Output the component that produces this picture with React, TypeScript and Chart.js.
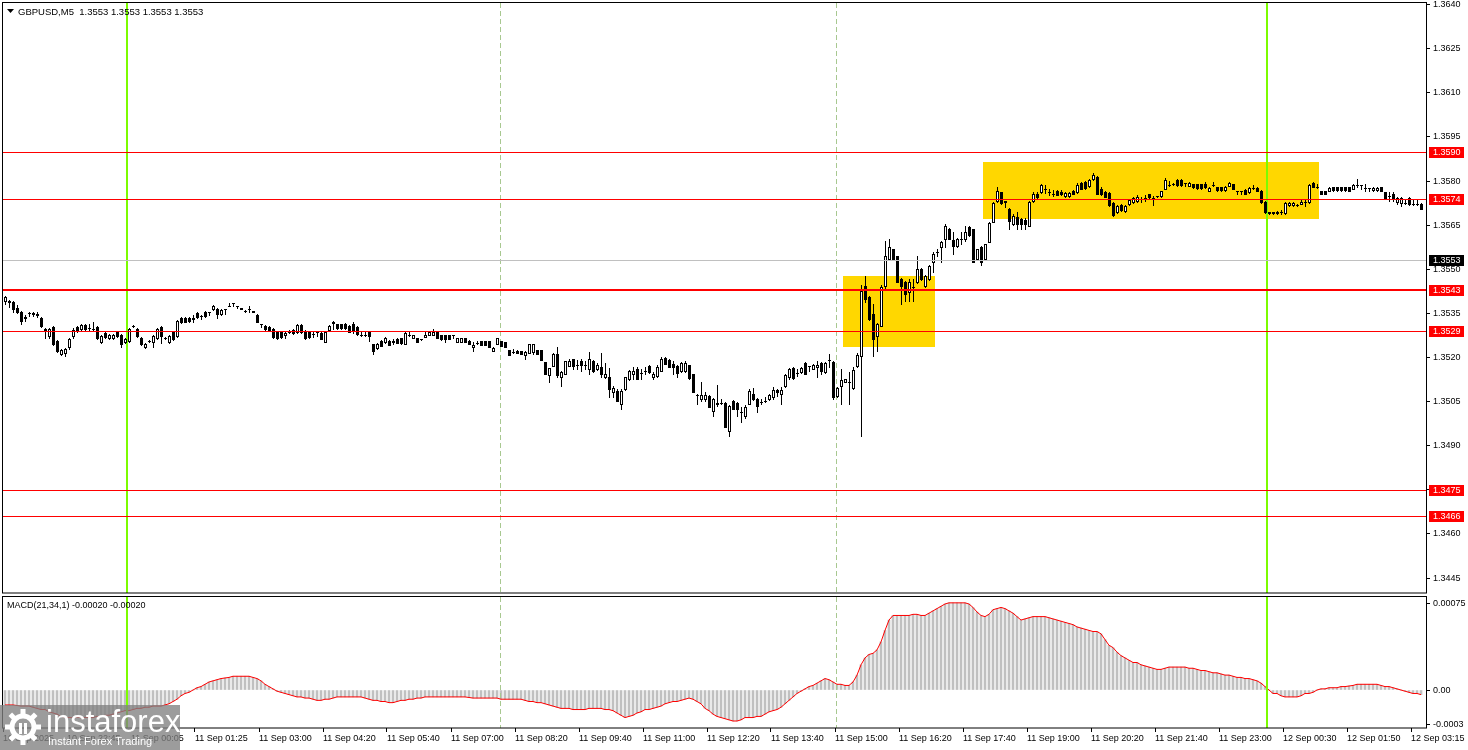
import React, { useEffect, useRef } from "react";
import { Chart, registerables } from "chart.js";
Chart.register(...registerables);

// ---------- DATA (prices in pips above BASE_PRICE) ----------
const BASE_PRICE = 1.35;
const openPips = [
39.1,39.1,38.8,36.7,35.4,33.3,35.0,35.0,34.3,33.3,
29.6,27.2,30.3,25.5,21.1,21.4,23.5,27.2,30.3,29.6,
30.9,29.9,29.6,30.3,25.2,28.2,26.5,26.5,28.6,27.5,
25.2,25.5,30.6,29.6,26.5,23.5,25.5,25.2,26.5,30.3,
26.5,25.2,28.6,27.2,33.3,33.3,33.3,33.0,35.0,34.0,
35.4,35.4,36.4,36.4,34.7,36.4,37.4,38.4,37.4,36.7,
35.7,36.4,35.7,34.3,31.3,30.6,30.3,29.6,28.6,28.6,
27.5,28.6,29.2,28.6,30.9,28.9,28.6,27.9,28.6,28.2,
25.2,29.2,32.0,31.3,31.3,31.3,30.6,31.3,30.3,27.5,
27.5,28.6,24.5,23.1,25.5,25.2,25.5,25.2,26.2,26.5,
24.5,27.5,26.5,26.5,26.2,26.9,27.5,27.5,28.6,27.5,
27.5,27.5,27.5,25.2,25.2,26.5,25.5,23.5,24.8,25.5,
25.5,25.5,22.1,24.5,25.5,25.2,22.4,21.8,22.1,22.1,
20.7,21.4,21.8,22.4,22.4,18.4,13.9,17.0,21.1,13.3,
14.3,17.0,19.4,17.3,18.7,17.3,16.0,18.7,16.0,16.7,
13.3,13.3,8.2,8.5,4.1,9.2,12.6,14.3,16.0,14.6,
15.3,17.0,13.3,13.6,15.3,19.7,19.0,17.7,17.0,15.3,
15.3,17.3,14.3,7.1,5.8,5.8,6.8,1.7,4.1,4.4,
4.4,-5.1,5.1,4.4,1.4,0.0,4.1,7.5,5.8,4.8,
5.1,5.8,6.5,8.8,7.5,10.2,13.3,16.3,14.6,15.0,
18.0,17.0,16.0,16.7,18.0,15.0,19.0,18.4,6.8,10.2,
11.6,11.6,9.5,17.0,20.4,44.2,40.5,34.7,27.2,30.6,
44.2,53.4,56.8,54.4,46.6,45.6,42.2,43.9,45.6,50.0,
44.2,46.6,52.4,55.8,57.5,60.2,63.6,59.8,57.8,60.2,
60.2,64.3,63.6,53.4,57.5,53.4,59.2,66.0,73.1,76.2,
73.1,70.4,65.3,67.7,67.0,66.6,64.6,73.1,75.5,76.2,
77.2,76.2,75.5,76.5,76.2,74.8,74.8,76.5,76.2,79.2,
79.6,78.2,80.6,81.3,77.2,76.2,75.8,72.4,69.4,71.7,
69.7,72.1,72.8,73.1,73.8,74.1,75.5,74.1,74.8,74.8,
77.2,78.5,78.9,80.2,80.2,79.2,78.2,78.9,78.9,78.9,
78.9,76.5,78.5,77.9,77.9,76.8,78.2,78.9,76.5,76.5,
76.8,76.2,77.5,77.5,76.5,72.8,69.0,69.0,69.0,69.4,
69.0,71.7,71.7,71.7,72.1,72.8,72.8,79.2,77.9,76.5,
76.5,76.5,77.9,77.9,77.9,77.9,77.9,77.2,78.5,78.5,
77.5,77.5,76.8,76.8,77.9,76.2,74.8,75.5,72.8,72.4,
72.4,74.1,72.1,72.1,72.1];
const highPips = [
40.8,39.4,39.1,37.7,35.7,34.3,35.4,35.4,35.4,33.7,
29.9,29.9,30.6,25.8,22.8,23.1,26.5,29.9,30.6,31.3,
31.3,31.3,32.0,30.6,27.5,28.6,27.9,27.9,28.9,27.9,
26.5,29.9,30.9,29.9,26.9,24.8,25.8,27.5,29.9,30.6,
26.9,27.5,28.9,32.6,33.7,33.7,33.7,34.3,35.4,34.3,
35.7,35.4,37.7,36.7,36.4,36.4,38.4,38.4,37.4,36.7,
36.0,37.4,35.7,34.7,31.3,30.9,30.6,29.9,28.9,28.9,
28.9,29.2,29.6,31.3,31.3,29.2,28.6,28.9,28.6,28.6,
28.9,30.9,32.3,31.3,31.3,31.6,30.9,32.0,30.6,28.6,
28.6,28.6,24.5,24.8,25.8,26.9,25.8,26.2,26.5,26.5,
28.6,28.6,27.5,26.5,26.2,28.6,28.6,29.6,28.6,27.5,
27.5,27.5,27.5,26.5,26.5,26.5,25.8,25.2,25.5,25.5,
25.5,25.5,23.5,26.5,25.5,25.2,22.4,22.8,22.4,22.1,
22.1,24.5,24.5,22.4,22.4,18.4,16.3,21.4,23.5,15.3,
18.7,19.4,19.4,19.0,19.4,18.7,21.8,19.0,18.0,21.4,
18.0,16.3,10.2,9.2,9.2,13.3,15.6,16.7,16.7,16.0,
16.7,17.3,15.0,17.3,20.1,20.1,19.4,18.7,17.3,18.4,
18.7,17.3,14.3,7.5,11.6,8.2,7.1,6.1,10.5,5.8,
4.8,3.7,5.4,4.8,3.1,3.7,9.2,9.5,6.1,5.8,
6.5,7.5,9.9,9.2,9.9,14.3,16.3,16.7,16.0,16.7,
18.4,17.0,17.7,18.7,18.4,18.4,21.1,18.7,9.9,16.0,
12.6,15.0,16.7,21.4,44.5,47.6,40.8,38.1,31.6,44.5,
59.5,60.2,56.8,54.4,46.9,45.9,46.6,46.6,54.4,50.3,
47.9,51.3,55.8,56.8,59.5,65.3,63.9,62.6,60.5,62.6,
64.6,64.6,63.6,56.8,57.8,58.5,66.0,72.8,77.9,76.2,
73.1,70.7,68.7,69.4,67.3,67.3,73.1,76.2,76.2,78.9,
78.5,77.2,76.8,76.8,76.8,76.2,76.2,76.8,79.2,79.6,
79.9,80.6,82.6,81.6,77.9,76.5,76.2,72.8,71.7,72.1,
71.7,73.8,74.5,75.1,74.5,75.1,75.5,74.8,74.8,76.5,
80.9,79.9,79.2,80.6,80.6,79.2,79.6,78.9,78.9,78.9,
79.6,77.9,79.6,77.9,77.9,78.2,79.6,78.9,76.5,76.5,
77.2,77.9,78.5,77.9,76.8,73.1,69.4,69.4,69.7,70.0,
72.8,72.8,72.8,72.1,73.8,73.4,78.9,79.6,78.9,76.5,
76.5,77.9,77.9,77.9,77.9,77.9,77.9,78.9,80.6,78.5,
78.9,77.5,77.9,77.9,77.9,76.2,76.2,76.2,74.5,74.5,
73.8,74.5,73.4,73.4,72.4];
const lowPips = [
38.1,37.1,35.4,35.0,31.3,32.3,34.0,34.0,33.7,30.3,
26.5,26.5,24.1,21.8,20.7,20.4,22.8,26.5,28.6,29.2,
29.2,28.9,29.2,26.2,24.8,26.5,26.2,26.2,26.9,23.5,
24.8,25.2,30.3,26.9,24.1,23.1,25.2,23.5,26.2,24.8,
26.2,24.8,25.8,26.9,31.6,32.0,32.0,32.0,33.3,33.0,
33.7,34.3,36.0,33.3,34.3,34.7,37.4,37.4,36.7,36.4,
35.4,35.4,35.4,32.0,30.3,29.2,29.2,26.5,26.2,26.5,
26.5,28.2,27.9,28.2,28.2,26.2,26.5,26.9,27.2,26.2,
25.2,29.2,29.6,29.6,29.6,29.6,28.6,28.2,27.5,27.2,
27.2,25.5,21.1,22.8,23.8,24.8,24.1,24.5,24.8,24.5,
24.5,27.2,26.5,25.2,25.8,26.9,27.5,27.5,26.5,25.8,
25.2,26.2,26.5,25.2,25.2,25.2,24.5,22.1,24.5,24.1,
24.1,23.5,22.1,24.5,23.8,23.5,20.7,21.4,21.4,21.1,
19.4,21.4,21.1,21.1,19.0,14.3,11.6,17.0,13.3,10.2,
14.3,17.0,16.0,16.0,15.3,16.0,14.3,15.0,15.6,13.3,
12.9,6.5,6.5,5.1,2.4,8.8,12.2,12.6,12.6,12.6,
14.3,14.6,12.6,13.3,15.3,17.7,16.7,14.3,13.3,15.0,
15.0,12.6,8.2,4.1,5.1,5.1,3.1,0.0,3.4,4.1,
-3.7,-6.8,2.4,0.0,-2.0,-0.7,4.1,5.4,1.4,4.1,
4.8,5.4,5.8,6.8,4.1,9.9,12.6,12.6,13.6,14.6,
14.3,15.3,16.0,13.3,14.3,14.6,16.7,5.8,6.5,4.1,
11.6,4.1,9.2,16.7,-6.8,38.8,32.6,20.4,22.1,30.6,
43.2,53.0,53.0,45.6,38.1,39.1,39.1,39.1,45.2,46.2,
43.9,46.2,49.0,54.4,52.4,57.5,60.2,55.1,57.5,58.5,
59.5,61.2,52.4,53.4,51.3,53.4,59.2,66.0,72.8,72.1,
71.1,63.6,65.0,63.6,63.6,63.6,64.6,72.8,74.1,75.8,
75.8,75.1,74.8,75.1,75.1,74.5,74.5,75.5,75.8,77.2,
77.2,77.9,80.2,75.5,75.1,74.5,71.4,68.0,69.0,69.7,
69.4,71.7,72.4,72.8,72.8,73.1,74.1,71.7,74.5,74.5,
77.2,78.2,78.5,78.2,78.2,78.2,78.2,77.5,77.2,77.2,
77.5,76.5,78.2,76.5,76.5,76.5,78.2,77.2,75.5,75.5,
75.5,75.8,77.2,76.5,72.4,69.0,68.7,68.7,68.7,68.7,
68.7,71.4,71.4,71.4,72.1,71.4,72.4,77.9,77.5,75.5,
75.5,76.5,76.5,76.5,76.5,76.5,76.5,77.2,77.9,77.2,
76.5,76.5,76.5,76.5,76.5,73.8,73.1,73.1,72.1,71.4,
72.1,71.7,71.7,71.7,70.4];
const closePips = [
40.5,38.8,36.4,35.4,32.3,33.7,35.0,34.7,34.7,30.6,
29.2,29.6,24.5,22.1,22.4,22.8,26.2,29.2,28.9,30.9,
29.6,29.9,29.6,26.5,27.2,26.9,27.5,27.5,27.2,24.5,
26.2,29.6,30.6,27.2,24.5,24.5,25.5,27.2,29.6,27.2,
26.5,27.2,26.2,32.3,32.0,32.0,32.3,33.3,33.7,34.0,
34.0,35.4,37.4,34.7,36.0,36.4,37.4,38.4,37.4,36.4,
35.7,36.4,35.4,32.0,31.3,29.6,29.2,26.9,26.5,26.9,
28.2,28.6,28.2,30.9,28.6,26.5,26.9,27.9,28.6,26.2,
28.6,30.6,31.6,29.9,29.9,29.9,28.6,29.2,27.9,27.5,
27.5,27.2,22.1,24.5,23.8,26.5,24.1,25.5,24.8,24.8,
28.2,27.5,27.5,25.2,26.2,27.5,28.6,28.6,26.5,26.2,
26.2,26.2,27.5,26.5,26.5,25.2,24.5,24.1,24.8,24.1,
24.1,23.5,23.1,26.5,23.8,23.5,20.7,21.8,21.4,21.1,
21.8,24.5,24.5,21.1,19.0,14.3,16.3,21.1,13.9,15.0,
18.7,18.7,17.0,17.3,17.3,17.3,19.4,15.3,17.3,14.3,
14.3,9.2,9.5,5.1,8.5,13.3,15.3,15.3,12.6,14.6,
15.3,15.0,14.3,16.7,19.4,17.7,16.7,16.7,14.6,18.0,
18.0,12.9,8.2,7.1,7.1,7.1,3.1,5.8,4.4,4.4,
-3.7,3.4,2.4,2.4,1.4,3.1,8.5,5.8,3.4,4.8,
5.1,7.1,8.8,8.2,8.8,13.9,16.0,12.9,14.6,16.3,
14.3,17.0,17.3,17.3,15.3,18.0,19.0,6.5,9.5,12.2,
12.6,11.6,15.6,20.7,42.5,39.8,33.0,26.2,31.3,43.9,
54.4,57.5,53.4,45.6,44.2,41.5,45.6,43.9,50.0,46.6,
47.6,51.0,55.1,55.8,59.2,64.6,60.2,57.8,60.2,60.2,
62.6,61.5,52.4,56.8,52.4,58.5,65.6,72.4,76.5,72.4,
72.8,66.3,68.0,65.3,65.3,65.3,72.8,75.5,74.5,78.5,
77.2,76.2,75.5,75.1,75.5,75.8,75.8,75.5,78.5,77.2,
77.5,80.2,81.9,75.5,75.5,74.5,71.7,68.3,71.4,70.0,
71.4,73.4,74.1,74.5,73.8,74.1,74.5,74.1,74.8,76.5,
80.2,78.5,78.9,78.5,78.5,79.2,79.2,77.9,77.5,77.5,
77.9,77.5,78.5,76.8,76.8,77.9,79.2,77.2,76.5,76.5,
75.5,77.5,77.5,76.5,72.8,69.4,69.4,69.4,69.4,69.4,
72.4,72.4,72.4,71.7,72.8,72.8,78.5,77.9,77.9,75.5,
75.5,77.5,76.8,76.8,76.8,76.8,76.5,78.5,78.5,78.5,
77.5,77.5,77.5,77.5,76.5,74.1,74.8,73.8,74.1,74.1,
72.4,72.1,72.1,72.1,70.4];
// MACD(21,34,1) main value, in units of 1e-5
const macdE5 = [
-13,-13,-13,-13.5,-14,-14,-14,-15,-16,-17,
-17,-19,-20,-21,-23,-24,-24,-24,-24,-24,
-24,-24,-24,-23,-23,-22,-22,-21,-20,-19,
-18,-18,-17,-16,-16,-15,-15,-14,-14,-14,
-13,-12,-10,-8,-5,-3,-2,0,2,3,
5,7,8,9,10,10.5,11,12,12,12,
12,12,11,10,8,5,3,1,-1,-2,
-3,-4,-5,-6,-6,-7,-7,-8,-9,-9,
-8,-8,-7,-6,-6,-6,-6,-6,-6,-6,
-7,-8,-9,-9,-10,-10,-11,-11,-10,-9,
-9,-8,-8,-7,-7,-6,-6,-6,-6,-6,
-6,-6,-6,-6,-6,-6,-6.5,-7,-7,-7,
-7,-7,-7,-7,-8,-8,-8,-8,-8,-8,
-9,-10,-10,-11,-11,-12,-13,-14,-15,-16,
-16,-16,-17,-17,-17,-17,-16,-16,-16,-16,
-17,-17,-18,-20,-22,-24,-23,-22,-20,-19,
-17,-17,-16,-15,-14,-12,-11,-10,-10,-9,
-8,-7,-8,-10,-12,-16,-18,-21,-23,-24,
-25,-26,-27,-27,-26,-24,-24,-24,-23,-23,
-21,-19,-18,-17,-15,-12,-9,-6,-3,-1,
1,3,4,6,8,10,9,7,5,5,
4,4,7,13,22,28,31,32,35,42,
52,61,65,65,65,65,65,66,66,65,
65,67,69,71,73,75,76,76,76,76,
76,75,72,68,65,64,66,70,71,72,
71,69,67,64,61,62,63,64,64,64,
64,63,62,61,60,59,58,57,55,54,
53,52,51,51,49,44,39,37,33,30,
28,26,24,24,22,21,20,19,18,18,
19,20,20,20,20,20,19,19,18,17,
17,16,15,15,14,13,13,12,11,11,
10,10,9,8,6,3,0,-3,-3,-5,
-6,-6,-6,-6,-5,-3,-3,-2,0,1,
1,2,2,2,3,3,3.5,4,5,5,
5,5,5,5,4,3,3,2,1,0,
-1,-2,-3,-3,-4];

const priceTicks = [1.3445, 1.346, 1.3475, 1.349, 1.3505, 1.352, 1.3535, 1.355, 1.3565, 1.358, 1.3595, 1.361, 1.3625, 1.364];
const timeLabels = ["10 Sep 2025","10 Sep 22:45","11 Sep 00:05","11 Sep 01:25","11 Sep 03:00","11 Sep 04:20","11 Sep 05:40","11 Sep 07:00","11 Sep 08:20","11 Sep 09:40","11 Sep 11:00","11 Sep 12:20","11 Sep 13:40","11 Sep 15:00","11 Sep 16:20","11 Sep 17:40","11 Sep 19:00","11 Sep 20:20","11 Sep 21:40","11 Sep 23:00","12 Sep 00:30","12 Sep 01:50","12 Sep 03:15"];
const timeLabelBars = [-0.5,15.5,31.5,47.5,63.5,79.5,95.5,111.5,127.5,143.5,159.5,175.5,191.5,207.5,223.5,239.5,255.5,271.5,287.5,303.5,319.5,335.5,351.5];
const macdTicks = [-0.0003, 0, 0.00075];
const macdTickLabels = ["-0.0003", "0.00", "0.00075"];

const levelPrices = [1.359, 1.3574, 1.3543, 1.3529, 1.3475, 1.3466];
const levelWidths = [1, 1, 2, 1, 1, 1];
const currentPrice = 1.3553;
const dayBreakBars = [30.5, 315.5];
const sessionBars = [123.75, 207.75];
const zoneStartBars = [209.5, 244.5];
const zoneEndBars = [232.5, 328.5];
const zoneHighPrices = [1.35477, 1.35865];
const zoneLowPrices = [1.35236, 1.3567];

const N = closePips.length;
const X_MIN = -0.5, X_MAX = 355.25;
const Y_MIN = 1.343992, Y_MAX = 1.364053;
const M_MIN = -0.000331, M_MAX = 0.000811;
const FONT = "'Liberation Sans', Arial, sans-serif";
const toPrice = (p: number) => BASE_PRICE + p / 10000;

const GREEN = "#7CFC00";
const SEP = "#A8C890";

function drawVerticals(ctx: any, xs: any, top: number, bottom: number) {
  ctx.fillStyle = SEP;
  for (const b of sessionBars) {
    const px = Math.round(xs.getPixelForValue(b));
    for (let y = top; y < bottom; y += 8) ctx.fillRect(px, y, 1, Math.min(5, bottom - y));
  }
  ctx.fillStyle = GREEN;
  for (const b of dayBreakBars) {
    const px = Math.round(xs.getPixelForValue(b));
    ctx.fillRect(px - 1, top, 2, bottom - top);
  }
}

const mainPlugin = {
  id: "mainDecor",
  beforeDatasetsDraw(chart: any) {
    const { ctx, chartArea: a, scales } = chart;
    const xs = scales.x, ys = scales.y;
    ctx.save();
    ctx.fillStyle = "#FFD700";
    for (let k = 0; k < zoneStartBars.length; k++) {
      const x1 = Math.round(xs.getPixelForValue(zoneStartBars[k]));
      const x2 = Math.round(xs.getPixelForValue(zoneEndBars[k]));
      const y1 = Math.round(ys.getPixelForValue(zoneHighPrices[k]));
      const y2 = Math.round(ys.getPixelForValue(zoneLowPrices[k]));
      ctx.fillRect(x1, y1, x2 - x1, y2 - y1);
    }
    drawVerticals(ctx, xs, a.top, a.bottom);
    ctx.restore();
  },
  afterDatasetsDraw(chart: any) {
    const { ctx, chartArea: a, scales } = chart;
    const xs = scales.x, ys = scales.y;
    ctx.save();
    ctx.beginPath();
    ctx.rect(a.left, a.top, a.right - a.left, a.bottom - a.top);
    ctx.clip();
    // candles
    for (let i = 0; i < N; i++) {
      const cx = Math.round(xs.getPixelForValue(i));
      const yo = Math.round(ys.getPixelForValue(toPrice(openPips[i])));
      const yc = Math.round(ys.getPixelForValue(toPrice(closePips[i])));
      const yh = Math.round(ys.getPixelForValue(toPrice(highPips[i])));
      const yl = Math.round(ys.getPixelForValue(toPrice(lowPips[i])));
      ctx.fillStyle = "#000";
      ctx.fillRect(cx, yh, 1, yl - yh + 1);
      const top = Math.min(yo, yc), bot = Math.max(yo, yc);
      if (bot - top <= 0) {
        ctx.fillRect(cx - 1, top, 3, 1);
      } else if (closePips[i] < openPips[i]) {
        ctx.fillRect(cx - 1, top, 3, bot - top + 1);
      } else {
        ctx.fillRect(cx - 1, top, 3, bot - top + 1);
        if (bot - top >= 2) {
          ctx.fillStyle = "#fff";
          ctx.fillRect(cx, top + 1, 1, bot - top - 1);
        }
      }
    }
    // horizontal levels
    ctx.fillStyle = "#C0C0C0";
    const cy = Math.round(ys.getPixelForValue(currentPrice));
    ctx.fillRect(a.left, cy, a.right - a.left, 1);
    ctx.fillStyle = "#FF0000";
    levelPrices.forEach((p, k) => {
      const y = Math.round(ys.getPixelForValue(p));
      const w = levelWidths[k];
      ctx.fillRect(a.left, y - Math.floor(w / 2), a.right - a.left, w);
    });
    ctx.restore();
    // frame
    ctx.save();
    ctx.strokeStyle = "#000";
    ctx.lineWidth = 1;
    ctx.strokeRect(a.left - 0.5, a.top - 0.5, a.right - a.left + 1, a.bottom - a.top + 0.5);
    // title
    ctx.fillStyle = "#000";
    ctx.beginPath();
    ctx.moveTo(7, 9); ctx.lineTo(14, 9); ctx.lineTo(10.5, 13); ctx.closePath(); ctx.fill();
    ctx.font = `9.5px ${FONT}`;
    ctx.textBaseline = "alphabetic";
    ctx.textAlign = "left";
    ctx.fillText("GBPUSD,M5  1.3553 1.3553 1.3553 1.3553", 18, 15);
    ctx.restore();
  },
  afterDraw(chart: any) {
    const { ctx, scales } = chart;
    const ys = scales.y;
    ctx.save();
    ctx.font = `9px ${FONT}`;
    ctx.textBaseline = "middle";
    ctx.textAlign = "left";
    const drawBox = (p: number, bg: string) => {
      const y = Math.round(ys.getPixelForValue(p));
      ctx.fillStyle = bg;
      ctx.fillRect(1429, y - 5, 35, 11);
      ctx.fillStyle = "#fff";
      ctx.fillText(p.toFixed(4), 1433, y + 0.5);
    };
    levelPrices.forEach((p) => drawBox(p, "#FF0000"));
    drawBox(currentPrice, "#000");
    ctx.restore();
  },
};

const macdPlugin = {
  id: "macdDecor",
  afterDatasetsDraw(chart: any) {
    const { ctx, chartArea: a, scales } = chart;
    ctx.save();
    drawVerticals(ctx, scales.x, a.top, a.bottom);
    ctx.strokeStyle = "#000";
    ctx.lineWidth = 1;
    ctx.strokeRect(a.left - 0.5, a.top - 0.5, a.right - a.left + 1, a.bottom - a.top + 0.5);
    ctx.fillStyle = "#000";
    ctx.font = `9px ${FONT}`;
    ctx.textBaseline = "alphabetic";
    ctx.fillText("MACD(21,34,1) -0.00020 -0.00020", 7, 14);
    ctx.restore();
  },
  afterDraw(chart: any) {
    const { ctx } = chart;
    ctx.save();
    const top = 111;
    ctx.fillStyle = "rgba(128,128,128,0.78)";
    ctx.fillRect(0, top, 180, 45);
    // gear
    ctx.strokeStyle = "#fff";
    ctx.fillStyle = "#fff";
    ctx.lineWidth = 5;
    ctx.beginPath();
    ctx.arc(23, top + 22, 11, 0, Math.PI * 2);
    ctx.stroke();
    for (let k = 0; k < 8; k++) {
      const ang = (k * Math.PI) / 4;
      ctx.save();
      ctx.translate(23, top + 22);
      ctx.rotate(ang);
      ctx.fillRect(-2.5, -18, 5, 6);
      ctx.restore();
    }
    ctx.fillRect(19, top + 18, 3, 11);
    ctx.fillRect(24, top + 18, 3, 11);
    ctx.font = `300 31px ${FONT}`;
    ctx.textBaseline = "alphabetic";
    ctx.fillText("instaforex", 46, top + 27);
    ctx.font = `11px ${FONT}`;
    ctx.fillText("Instant Forex Trading", 48, top + 40);
    ctx.restore();
  },
};

export default function App() {
  const mainRef = useRef<HTMLCanvasElement>(null);
  const macdRef = useRef<HTMLCanvasElement>(null);

  useEffect(() => {
    document.body.style.margin = "0";
    const tickFont = { family: FONT, size: 9 };
    const main = new Chart(mainRef.current as HTMLCanvasElement, {
      type: "line",
      data: { datasets: [] },
      options: {
        responsive: false,
        animation: false,
        devicePixelRatio: 1,
        events: [],
        layout: { padding: { left: 3, top: 3, right: 0, bottom: 1 } },
        plugins: { legend: { display: false }, tooltip: { enabled: false } },
        scales: {
          x: { type: "linear", display: false, min: X_MIN, max: X_MAX },
          y: {
            type: "linear",
            position: "right",
            min: Y_MIN,
            max: Y_MAX,
            afterBuildTicks: (s: any) => { s.ticks = priceTicks.map((v) => ({ value: v })); },
            afterFit: (s: any) => { s.width = 42; s.paddingTop = 0; s.paddingBottom = 0; },
            ticks: { font: tickFont, color: "#000", padding: 3, autoSkip: false, callback: (v: any) => Number(v).toFixed(4) },
            grid: { drawOnChartArea: false, drawTicks: true, tickLength: 4, color: "#000" },
            border: { display: false },
          },
        },
      } as any,
      plugins: [mainPlugin],
    });

    const macd = new Chart(macdRef.current as HTMLCanvasElement, {
      type: "bar",
      data: {
        datasets: [
          {
            type: "line",
            data: macdE5.map((v, i) => ({ x: i, y: v * 1e-5 })),
            borderColor: "#FF0000",
            borderWidth: 1,
            pointRadius: 0,
            tension: 0,
            fill: false,
          } as any,
          {
            type: "bar",
            data: macdE5.map((v, i) => ({ x: i, y: v * 1e-5 })),
            backgroundColor: "#C0C0C0",
            barThickness: 2,
            borderWidth: 0,
            grouped: false,
          } as any,
        ],
      },
      options: {
        responsive: false,
        animation: false,
        devicePixelRatio: 1,
        events: [],
        layout: { padding: { left: 3, top: 3, right: 0, bottom: 0 } },
        plugins: { legend: { display: false }, tooltip: { enabled: false } },
        scales: {
          x: {
            type: "linear",
            min: X_MIN,
            max: X_MAX,
            offset: false,
            afterBuildTicks: (s: any) => { s.ticks = timeLabelBars.map((v) => ({ value: v })); },
            afterFit: (s: any) => { s.height = 22; s.paddingLeft = 0; s.paddingRight = 0; },
            ticks: { font: tickFont, color: "#000", padding: 1, autoSkip: false, maxRotation: 0, minRotation: 0, align: "start", callback: (_v: any, i: number) => timeLabels[i] },
            grid: { drawOnChartArea: false, drawTicks: true, tickLength: 4, color: "#000", offset: false },
            border: { display: false },
          },
          y: {
            type: "linear",
            position: "right",
            min: M_MIN,
            max: M_MAX,
            afterBuildTicks: (s: any) => { s.ticks = macdTicks.map((v) => ({ value: v })); },
            afterFit: (s: any) => { s.width = 42; s.paddingTop = 0; s.paddingBottom = 0; },
            ticks: { font: tickFont, color: "#000", padding: 3, autoSkip: false, callback: (_v: any, i: number) => macdTickLabels[i] },
            grid: { drawOnChartArea: false, drawTicks: true, tickLength: 4, color: "#000" },
            border: { display: false },
          },
        },
      } as any,
      plugins: [macdPlugin],
    });

    return () => {
      main.destroy();
      macd.destroy();
    };
  }, []);

  return (
    <div style={{ position: "fixed", left: 0, top: 0, width: 1468, height: 750, background: "#fff", overflow: "hidden" }}>
      <canvas ref={mainRef} width={1468} height={594} style={{ position: "absolute", left: 0, top: 0 }} />
      <canvas ref={macdRef} width={1468} height={156} style={{ position: "absolute", left: 0, top: 594 }} />
    </div>
  );
}
